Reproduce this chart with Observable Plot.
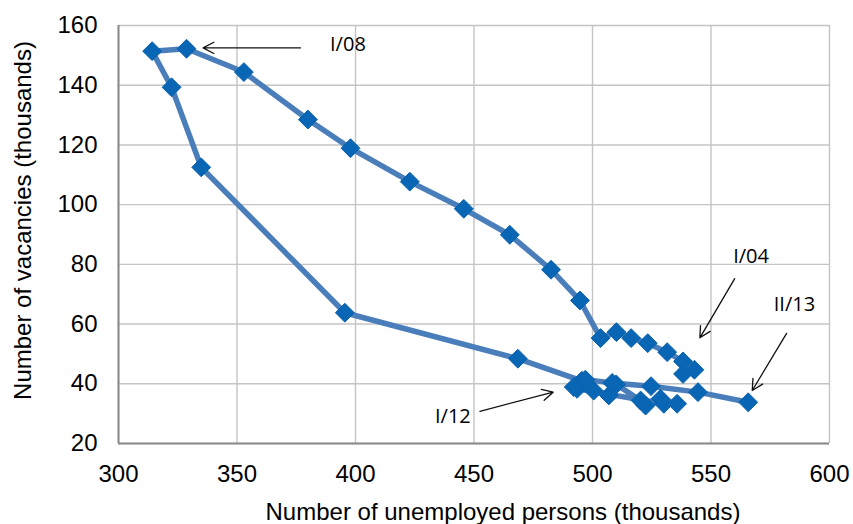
<!DOCTYPE html>
<html>
<head>
<meta charset="utf-8">
<script src="https://cdn.jsdelivr.net/npm/d3@7"></script>
<script src="https://cdn.jsdelivr.net/npm/@observablehq/plot@0.6"></script>
<style>
  html, body { margin: 0; padding: 0; background: #fff; }
  #chart { width: 853px; height: 524px; }
</style>
</head>
<body>
<div id="chart"></div>
<script>
// Quarters I/04 .. II/13
const quarters = [
  "I/04","II/04","III/04","IV/04",
  "I/05","II/05","III/05","IV/05",
  "I/06","II/06","III/06","IV/06",
  "I/07","II/07","III/07","IV/07",
  "I/08","II/08","III/08","IV/08",
  "I/09","II/09","III/09","IV/09",
  "I/10","II/10","III/10","IV/10",
  "I/11","II/11","III/11","IV/11",
  "I/12","II/12","III/12","IV/12",
  "I/13","II/13"
];
// Number of unemployed persons (thousands)
const unemployed = [
  543.0, 538.2, 538.2, 531.5,
  523.3, 516.3, 510.1, 503.4,
  494.7, 482.5, 465.1, 445.7,
  422.9, 397.9, 379.9, 352.9,
  328.7, 314.2, 322.4, 334.9,
  395.5, 468.5, 495.5, 500.5,
  506.9, 510.0, 520.3, 522.4,
  528.7, 535.7, 530.1, 493.5,
  492.1, 497.0, 508.3, 524.7,
  544.5, 565.7
];
// Number of vacancies (thousands)
const vacancies = [
  44.7, 43.3, 47.5, 50.6,
  53.6, 55.3, 57.3, 55.3,
  67.9, 78.2, 89.9, 98.6,
  107.7, 118.9, 128.5, 144.4,
  152.2, 151.4, 139.3, 112.5,
  63.8, 48.4, 41.0, 37.7,
  36.1, 39.8, 34.4, 32.7,
  35.0, 33.3, 33.3, 38.3,
  38.9, 41.4, 40.3, 39.2,
  37.2, 33.8
];

const xTicks = [300, 350, 400, 450, 500, 550, 600];
const yTicks = [20, 40, 60, 80, 100, 120, 140, 160];

const xTitle = "Number of unemployed persons (thousands)";
const yTitle = "Number of vacancies (thousands)";

// Annotation labels and arrows (data coordinates)
const annLabels = ["I/08", "I/04", "II/13", "I/12"];
const annLabelX = [396.8, 566.9, 585.2, 441.1];
const annLabelY = [153.6, 82.6, 66.6, 29.0];
const arrowX1 = [376.8, 560.0, 581.9, 452.5];
const arrowY1 = [152.5, 75.2, 56.9, 30.8];
const arrowX2 = [335.7, 545.3, 567.4, 483.4];
const arrowY2 = [152.5, 55.4, 37.75, 37.2];

const data = quarters.map((q, i) => ({q, u: unemployed[i], v: vacancies[i]}));
const labels = annLabels.map((t, i) => ({t, x: annLabelX[i], y: annLabelY[i]}));
const arrows = arrowX1.map((x1, i) => ({x1, y1: arrowY1[i], x2: arrowX2[i], y2: arrowY2[i]}));

const chart = Plot.plot({
  width: 853,
  height: 524,
  marginLeft: 118,
  marginRight: 24,
  marginTop: 25,
  marginBottom: 81,
  style: {fontFamily: "'Liberation Sans', Arial, sans-serif", fontSize: "24px", color: "#000", background: "#fff"},
  x: {domain: [300, 600]},
  y: {domain: [20, 160]},
  marks: [
    Plot.gridX(xTicks, {stroke: "#c4c4c4", strokeOpacity: 1, strokeWidth: 1.4}),
    Plot.gridY(yTicks, {stroke: "#c4c4c4", strokeOpacity: 1, strokeWidth: 1.4}),
    Plot.ruleX([300], {stroke: "#8a8a8a", strokeWidth: 2}),
    Plot.ruleY([20], {stroke: "#8a8a8a", strokeWidth: 2}),
    Plot.axisX(xTicks, {tickSize: 0, tickPadding: 21, label: null, fill: "#000", fontSize: 24}),
    Plot.axisY(yTicks, {tickSize: 0, tickPadding: 21, label: null, fill: "#000", fontSize: 24}),
    Plot.line(data, {x: "u", y: "v", stroke: "#4a7ebb", strokeWidth: 5.5, strokeLinejoin: "round", strokeLinecap: "round"}),
    Plot.dot(data, {x: "u", y: "v", symbol: "diamond2", r: 8.5, fill: "#0866b4", stroke: "#0a62ae", strokeWidth: 1}),
    Plot.arrow(arrows, {x1: "x1", y1: "y1", x2: "x2", y2: "y2", stroke: "#111", strokeWidth: 1.3, headLength: 14, headAngle: 55}),
    Plot.text(labels, {x: "x", y: "y", text: "t", fontFamily: "'Open Sans', sans-serif", fontSize: 20, fill: "#000", textAnchor: "middle", lineAnchor: "middle"}),
    Plot.text([xTitle], {frameAnchor: "bottom", dx: 29, dy: 69, textAnchor: "middle", lineAnchor: "middle", fontSize: 24, fill: "#000"}),
    Plot.text([yTitle], {frameAnchor: "left", dx: -95, dy: -14, rotate: -90, textAnchor: "middle", lineAnchor: "middle", fontSize: 24, fill: "#000"})
  ]
});
document.getElementById("chart").appendChild(chart);
</script>
</body>
</html>
